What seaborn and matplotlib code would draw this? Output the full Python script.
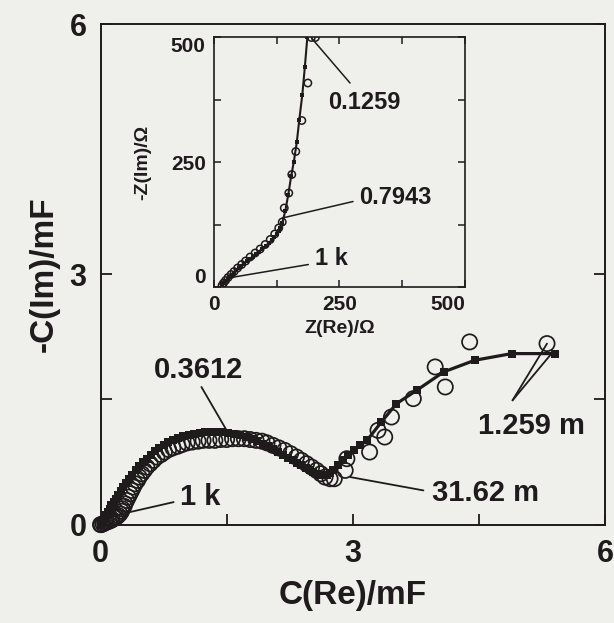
import matplotlib
matplotlib.use("Agg")
import matplotlib.pyplot as plt
import seaborn as sns
import pandas as pd

# ---------------- data ----------------
# main plot: measured capacitance (open circles)
meas_re = [0.00, 0.01, 0.03, 0.05, 0.07, 0.10, 0.12, 0.14, 0.17, 0.19, 0.21, 0.23,
           0.25, 0.26, 0.28, 0.29, 0.31, 0.33, 0.35, 0.37, 0.39, 0.41, 0.44, 0.46,
           0.49, 0.52, 0.55, 0.59, 0.63, 0.67, 0.72, 0.76, 0.81, 0.86, 0.92, 0.97,
           1.03, 1.09, 1.16, 1.22, 1.29, 1.36, 1.43, 1.50, 1.57, 1.64, 1.71, 1.78,
           1.85, 1.92, 1.98, 2.05, 2.12, 2.19, 2.26, 2.33, 2.39, 2.45, 2.51, 2.57,
           2.62, 2.67, 2.73, 2.78, 2.91, 2.93, 3.20, 3.38, 3.30, 3.46, 3.72, 4.10,
           3.98, 4.39, 5.31]
meas_im = [0.00, 0.00, 0.01, 0.02, 0.03, 0.04, 0.05, 0.06, 0.08, 0.09, 0.11, 0.13,
           0.16, 0.19, 0.22, 0.25, 0.29, 0.33, 0.37, 0.41, 0.45, 0.49, 0.53, 0.57,
           0.61, 0.65, 0.69, 0.73, 0.77, 0.81, 0.84, 0.87, 0.90, 0.92, 0.94, 0.96,
           0.98, 0.99, 1.00, 1.01, 1.01, 1.01, 1.02, 1.02, 1.03, 1.03, 1.03, 1.02,
           1.01, 1.00, 0.98, 0.95, 0.92, 0.89, 0.85, 0.81, 0.77, 0.73, 0.69, 0.65,
           0.61, 0.57, 0.55, 0.55, 0.65, 0.79, 0.87, 1.05, 1.13, 1.29, 1.51, 1.65,
           1.89, 2.19, 2.17]
# main plot: fitted capacitance (filled squares + line)
fit_re = [0.00, 0.01, 0.02, 0.03, 0.04, 0.06, 0.07, 0.09, 0.11, 0.13, 0.16, 0.18,
          0.21, 0.24, 0.27, 0.30, 0.34, 0.38, 0.42, 0.46, 0.51, 0.55, 0.60, 0.65,
          0.70, 0.75, 0.80, 0.86, 0.92, 0.98, 1.05, 1.11, 1.18, 1.24, 1.31, 1.38,
          1.45, 1.52, 1.59, 1.66, 1.73, 1.80, 1.86, 1.93, 1.99, 2.05, 2.11, 2.17,
          2.23, 2.29, 2.34, 2.39, 2.44, 2.49, 2.53, 2.57, 2.61, 2.65, 2.69, 2.73,
          2.77, 2.82, 2.88, 2.94, 3.01, 3.09, 3.17, 3.34, 3.52, 3.76, 4.08, 4.45,
          4.89, 5.40]
fit_im = [0.00, 0.01, 0.03, 0.05, 0.07, 0.09, 0.12, 0.15, 0.19, 0.23, 0.27, 0.31,
          0.36, 0.40, 0.45, 0.50, 0.55, 0.60, 0.65, 0.70, 0.75, 0.79, 0.84, 0.88,
          0.92, 0.96, 0.99, 1.02, 1.04, 1.06, 1.07, 1.09, 1.10, 1.11, 1.11, 1.11,
          1.11, 1.10, 1.09, 1.07, 1.05, 1.03, 1.00, 0.97, 0.94, 0.91, 0.87, 0.84,
          0.80, 0.77, 0.74, 0.71, 0.68, 0.65, 0.63, 0.61, 0.60, 0.59, 0.60, 0.62,
          0.66, 0.71, 0.77, 0.83, 0.89, 0.95, 1.01, 1.23, 1.45, 1.61, 1.83, 1.97,
          2.05, 2.05]

# inset: impedance (Ohm)
z_meas_re = [16, 19, 23, 28, 34, 40, 47, 55, 63, 72, 82, 92, 102, 112, 121, 129,
             136, 140, 149, 155, 163, 175, 187, 194, 202]
z_meas_im = [3, 8, 13, 19, 25, 31, 38, 45, 52, 60, 68, 76, 85, 95, 106, 118,
             130, 158, 188, 225, 271, 333, 408, 499, 499]
z_fit_re = [15, 18, 22, 27, 31, 35, 40, 44, 49, 54, 60, 65, 71, 77, 83, 90, 96,
            103, 109, 115, 120, 125, 129, 132, 136, 142, 148, 154, 159, 165, 170,
            176, 181, 186]
z_fit_im = [5, 8, 12, 16, 20, 25, 29, 34, 38, 43, 47, 52, 56, 61, 66, 71, 77, 82,
            88, 94, 100, 106, 112, 119, 128, 152, 185, 223, 250, 290, 335, 385,
            440, 500]

# tick labels
main_ticks = [0, 3, 6]
inset_ticks = [0, 250, 500]

# frequency annotations: label, point(s), line end, text position
main_notes = [
    ("1 k", [(0.13, 0.10)], (0.87, 0.27), (1.19, 0.33)),
    ("0.3612", [(1.50, 1.13)], (1.20, 1.65), (1.16, 1.85)),
    ("31.62 m", [(2.97, 0.57)], (3.84, 0.41), (4.58, 0.38)),
    ("1.259 m", [(5.31, 2.17), (5.38, 2.07)], (4.90, 1.49), (5.13, 1.18)),
]
inset_notes = [
    ("0.1259", [(195, 497)], (271, 408), (299, 370)),
    ("0.7943", [(136, 138)], (277, 171), (362, 179)),
    ("1 k", [(34, 19)], (188, 45), (234, 57)),
]

# ---------------- style ----------------
BG = "#efefeb"
INK = "#1f1b1d"
sns.set_theme(style="ticks")
plt.rcParams["font.family"] = ["Liberation Sans", "DejaVu Sans"]
plt.rcParams["font.weight"] = "bold"
plt.rcParams["axes.edgecolor"] = INK
plt.rcParams["xtick.color"] = INK
plt.rcParams["ytick.color"] = INK
plt.rcParams["text.color"] = INK
plt.rcParams["axes.labelcolor"] = INK

fig = plt.figure(figsize=(6.14, 6.23), dpi=100, facecolor=BG)

# ---------------- main axes ----------------
ax = fig.add_axes([0.1637, 0.1579, 0.8217, 0.8035], facecolor=BG)
df_meas = pd.DataFrame({"x": meas_re, "y": meas_im})
df_fit = pd.DataFrame({"x": fit_re, "y": fit_im})
sns.scatterplot(data=df_meas, x="x", y="y", ax=ax, marker="o", s=120,
                facecolor="none", edgecolor=INK, linewidth=1.25, zorder=3, clip_on=False)
sns.lineplot(data=df_fit, x="x", y="y", ax=ax, sort=False, estimator=None,
             color=INK, lw=2.3, marker="s", markersize=5.5, markeredgewidth=0,
             zorder=4, clip_on=False)
ax.set_xlim(0, 6)
ax.set_ylim(0, 6)
ax.set_xticks(main_ticks)
ax.set_yticks(main_ticks)
ax.set_xticks([1.5, 4.5], minor=True)
ax.set_yticks([1.5], minor=True)
ax.set_xticklabels([str(t) for t in main_ticks])
ax.set_yticklabels([str(t) for t in main_ticks])
ax.tick_params(which="both", direction="in", length=8, width=1.3,
               right=True, top=False, labelsize=22, pad=10)
for s in ax.spines.values():
    s.set_linewidth(1.4)
    s.set_visible(True)
ax.set_xlabel("C(Re)/mF", fontsize=24, fontweight="bold", labelpad=8)
ax.set_ylabel("-C(Im)/mF", fontsize=24, fontweight="bold", labelpad=7)

for label, pts, end, tpos in main_notes:
    for p in pts:
        ax.annotate("", xy=p, xytext=end,
                    arrowprops=dict(arrowstyle="-", color=INK, lw=1.3,
                                    shrinkA=0, shrinkB=0), zorder=5)
    ax.text(tpos[0], tpos[1], label, fontsize=21, fontweight="bold",
            ha="center", va="center", color=INK, zorder=6)

# ---------------- inset ----------------
ins = fig.add_axes([0.3485, 0.5393, 0.4088, 0.4013], facecolor=BG)
df_zm = pd.DataFrame({"x": z_meas_re, "y": z_meas_im})
df_zf = pd.DataFrame({"x": z_fit_re, "y": z_fit_im})
sns.scatterplot(data=df_zm, x="x", y="y", ax=ins, marker="o", s=28,
                facecolor="none", edgecolor=INK, linewidth=1.1, zorder=3)
sns.lineplot(data=df_zf, x="x", y="y", ax=ins, sort=False, estimator=None,
             color=INK, lw=1.5, marker="s", markersize=3.5, markeredgewidth=0,
             zorder=4)
ins.set_xlim(0, 500)
ins.set_ylim(0, 500)
ins.set_xticks(inset_ticks)
ins.set_yticks(inset_ticks)
ins.set_xticks([125, 375], minor=True)
ins.set_yticks([125, 375], minor=True)
ins.set_xticklabels([str(t) for t in inset_ticks])
ins.set_yticklabels([str(t) for t in inset_ticks])
ins.tick_params(which="both", direction="in", length=5, width=1.1,
                right=True, top=True, labelsize=15, pad=6)
xl = ins.get_xticklabels()
xl[-1].set_ha("right")
yl = ins.get_yticklabels()
yl[0].set_va("bottom")
yl[-1].set_va("top")
for s in ins.spines.values():
    s.set_linewidth(1.2)
    s.set_visible(True)
ins.set_xlabel("Z(Re)/Ω", fontsize=14, fontweight="bold", labelpad=4)
ins.set_ylabel("-Z(Im)/Ω", fontsize=14, fontweight="bold", labelpad=14)

for label, pts, end, tpos in inset_notes:
    for p in pts:
        ins.annotate("", xy=p, xytext=end,
                     arrowprops=dict(arrowstyle="-", color=INK, lw=1.1,
                                     shrinkA=0, shrinkB=0), zorder=5,
                     annotation_clip=False)
    ins.text(tpos[0], tpos[1], label, fontsize=17, fontweight="bold",
             ha="center", va="center", color=INK, zorder=6)

fig.savefig("out.png", dpi=100, facecolor=BG)
